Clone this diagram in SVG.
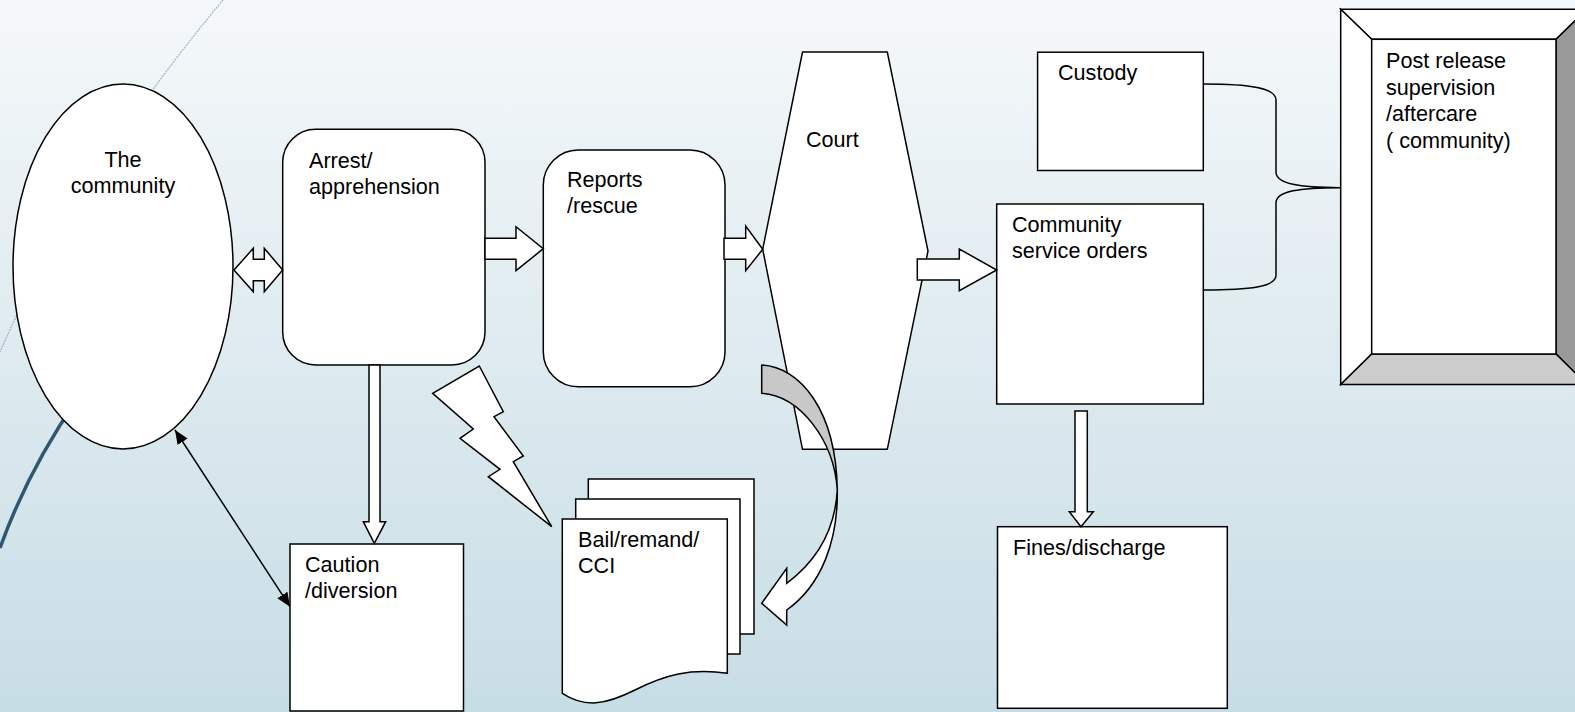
<svg xmlns="http://www.w3.org/2000/svg" width="1575" height="712" viewBox="0 0 1575 712">
<defs>
<linearGradient id="bg" x1="0" y1="0" x2="0" y2="1">
<stop offset="0" stop-color="#f5f8fa"/>
<stop offset="1" stop-color="#c7dde5"/>
</linearGradient>
<marker id="ah" markerUnits="userSpaceOnUse" markerWidth="16" markerHeight="14" refX="14" refY="6" orient="auto-start-reverse">
<path d="M0,0 L14,6 L0,12 Z" fill="#000"/>
</marker>
</defs>
<style>
.s{fill:#fff;stroke:#000;stroke-width:1.5;stroke-linejoin:miter}
.t{font-family:"Liberation Sans",Arial,sans-serif;font-size:21.6px;fill:#000}
.c{text-anchor:middle}
</style>
<rect x="0" y="0" width="1575" height="712" fill="url(#bg)"/>
<g id="decor">
<path d="M223,0 Q77,175 0,352" fill="none" stroke="#9fb8c6" stroke-width="1.3" stroke-dasharray="2 1"/>
<path d="M0,548 Q28,470 78,398" fill="none" stroke="#2f5870" stroke-width="3.5"/>
</g>
<g id="community">
<ellipse class="s" cx="123" cy="266.5" rx="110" ry="182.5"/>
<text class="t c" x="123" y="167">The</text>
<text class="t c" x="123" y="193">community</text>
</g>
<g id="arrest">
<rect class="s" x="282.7" y="129.3" width="202.3" height="235.7" rx="33" ry="33"/>
<text class="t" x="309" y="168">Arrest/</text>
<text class="t" x="309" y="194">apprehension</text>
</g>
<g id="reports">
<rect class="s" x="543.3" y="150" width="181.7" height="236.7" rx="35" ry="35"/>
<text class="t" x="567" y="187">Reports</text>
<text class="t" x="567" y="213">/rescue</text>
</g>
<g id="court">
<polygon class="s" points="802.5,52 887.3,52 928,251 887.3,449.3 802.5,449.3 762.7,249.3"/>
<text class="t" x="806" y="147">Court</text>
</g>
<g id="custody">
<rect class="s" x="1037.6" y="52.2" width="165.7" height="118.3"/>
<text class="t" x="1058" y="80">Custody</text>
</g>
<g id="cso">
<rect class="s" x="996.7" y="204" width="206.6" height="200"/>
<text class="t" x="1012" y="232">Community</text>
<text class="t" x="1012" y="258">service orders</text>
</g>
<g id="fines">
<rect class="s" x="997.5" y="526.7" width="229.8" height="181.6"/>
<text class="t" x="1013" y="555">Fines/discharge</text>
</g>
<g id="caution">
<rect class="s" x="290" y="544" width="173.5" height="167"/>
<text class="t" x="305" y="572">Caution</text>
<text class="t" x="305" y="598">/diversion</text>
</g>
<g id="bail">
<rect class="s" x="588.3" y="479" width="165.7" height="155"/>
<rect class="s" x="575.7" y="499" width="164.3" height="155"/>
<path class="s" d="M562.3,519 H727.3 V673.3 C690,668 665,675 635,690 C605,705 585,708 562.3,693.3 Z"/>
<text class="t" x="578" y="547">Bail/remand/</text>
<text class="t" x="578" y="573">CCI</text>
</g>
<g id="postrelease">
<polygon points="1340.7,9.3 1587,9.3 1556,39.3 1371.7,39.3" fill="#fff" stroke="#000" stroke-width="1.5"/>
<polygon points="1340.7,9.3 1371.7,39.3 1371.7,354 1340.7,384.5" fill="#fff" stroke="#000" stroke-width="1.5"/>
<polygon points="1587,9.3 1556,39.3 1556,354 1587,384.5" fill="#999" stroke="#000" stroke-width="1.5"/>
<polygon points="1340.7,384.5 1371.7,354 1556,354 1587,384.5" fill="#ccc" stroke="#000" stroke-width="1.5"/>
<rect x="1371.7" y="39.3" width="184.3" height="314.7" fill="#fff" stroke="#000" stroke-width="1.5"/>
<text class="t" x="1386" y="68">Post release</text>
<text class="t" x="1386" y="94.5">supervision</text>
<text class="t" x="1386" y="121">/aftercare</text>
<text class="t" x="1386" y="147.5">( community)</text>
</g>
<g id="connectors">
<polygon class="s" points="234,270 253.3,248.3 253.3,259.3 264.3,259.3 264.3,248.3 282.7,270 264.3,291.7 264.3,280.7 253.3,280.7 253.3,291.7"/>
<polygon class="s" points="485,238.3 516,238.3 516,226.7 543.3,248.7 516,270.7 516,259.3 485,259.3"/>
<polygon class="s" points="724,238.3 745.7,238.3 745.7,226 762.7,249.3 745.7,270.7 745.7,259.3 724,259.3"/>
<polygon class="s" points="917.3,259 959.3,259 959.3,249 996.7,270 959.3,290.7 959.3,280 917.3,280"/>
<polygon class="s" points="369,365 380,365 380,521.7 385.7,521.7 374.3,543.3 363.3,521.7 369,521.7"/>
<polygon class="s" points="1075,411 1087.3,411 1087.3,511.7 1093.3,511.7 1081,526.7 1069.3,511.7 1075,511.7"/>
<polygon class="s" points="479.3,366 503.3,411.7 494,416.7 523.3,456 513.3,461.7 551.7,526.7 488.3,476.7 500,469.3 460,438.3 473.3,429 432.7,393.3"/>
<path d="M761.7,365 C800,367 836,410 837.3,490 C834,440 800,396 761.7,393.3 Z" fill="#c8c8c8" stroke="#000" stroke-width="1.5" stroke-linejoin="round"/>
<path d="M837.3,490 C838,540 822,585 786.7,610 L786.7,625 L761.7,603.3 L786.7,568.3 L786.7,583.3 C818,560 835,530 837.3,490 Z" class="s"/>
<line x1="175" y1="430" x2="290" y2="606.7" stroke="#000" stroke-width="1.5" marker-start="url(#ah)" marker-end="url(#ah)"/>
<path d="M1203.3,84 C1250,84 1276,88 1276,100 V172 C1276,184 1300,187.7 1340,187.7 C1300,187.7 1276,191 1276,203 V275 C1276,287 1250,290 1203.3,290" fill="none" stroke="#000" stroke-width="1.5"/>
</g>
</svg>
